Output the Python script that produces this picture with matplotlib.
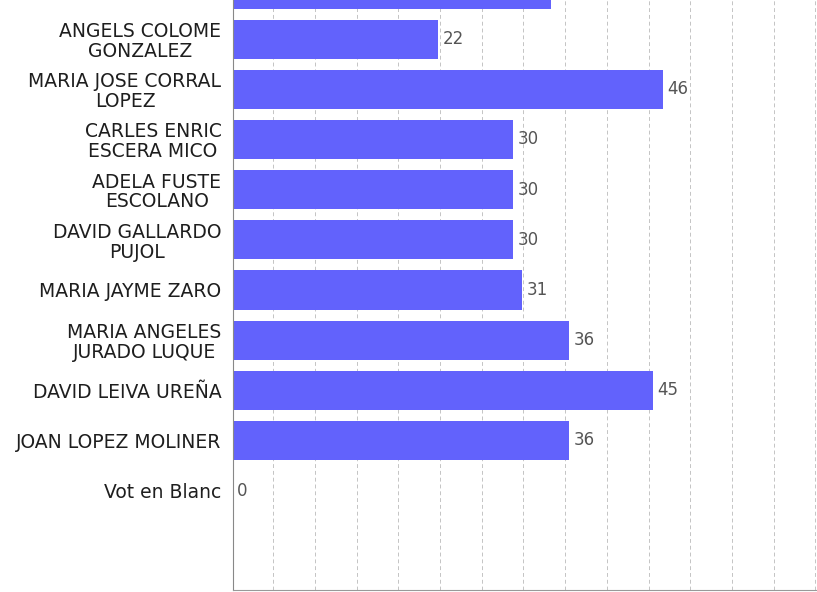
import matplotlib
matplotlib.use("Agg")
import matplotlib.pyplot as plt
import numpy as np

# ---------------------------------------------------------
# Dades (la primera barra queda tallada a dalt de la imatge)
# ---------------------------------------------------------
candidats = ["",
             "ANGELS COLOME\nGONZALEZ",
             "MARIA JOSE CORRAL\nLOPEZ",
             "CARLES ENRIC\nESCERA MICO",
             "ADELA FUSTE\nESCOLANO",
             "DAVID GALLARDO\nPUJOL",
             "MARIA JAYME ZARO",
             "MARIA ANGELES\nJURADO LUQUE",
             "DAVID LEIVA UREÑA",
             "JOAN LOPEZ MOLINER",
             "Vot en Blanc"]
vots = [34, 22, 46, 30, 30, 30, 31, 36, 45, 36, 0]

# ---------------------------------------------------------
# Gràfica
# ---------------------------------------------------------
fig = plt.figure(figsize=(8.17, 5.92), dpi=100)
ax = fig.add_axes([232.6 / 817, 2 / 592, 1 - 232.6 / 817, 590 / 592])

y = np.arange(len(candidats))
ax.barh(y, vots, height=0.78, color="#6262fc", zorder=2)

for yi, v in zip(y, vots):
    if candidats[yi] == "":
        continue
    ax.text(v + 0.45, yi, str(v), va="center", ha="left",
            fontsize=12, color="#555555")

ax.set_yticks(y[1:])
ax.set_yticklabels(candidats[1:], fontsize=13.5, color="#1e1e1e",
                   linespacing=1.05)
for lab in ax.get_yticklabels():
    lab.set_multialignment("center")

ax.set_ylim(11.98, 0.22)
ax.set_xlim(0, 62.5)
ax.set_xticks(np.arange(4.35, 62.5, 4.46))
ax.tick_params(axis="x", length=0, labelbottom=False)
ax.tick_params(axis="y", length=0, pad=8)

ax.grid(axis="x", linestyle=(0, (4, 3)), color="#b0b0b0", linewidth=0.7,
        alpha=0.75, zorder=3)

for s in ["top", "right"]:
    ax.spines[s].set_visible(False)
ax.spines["left"].set_color("#888888")
ax.spines["bottom"].set_color("#999999")

fig.savefig("out.png", dpi=100)
